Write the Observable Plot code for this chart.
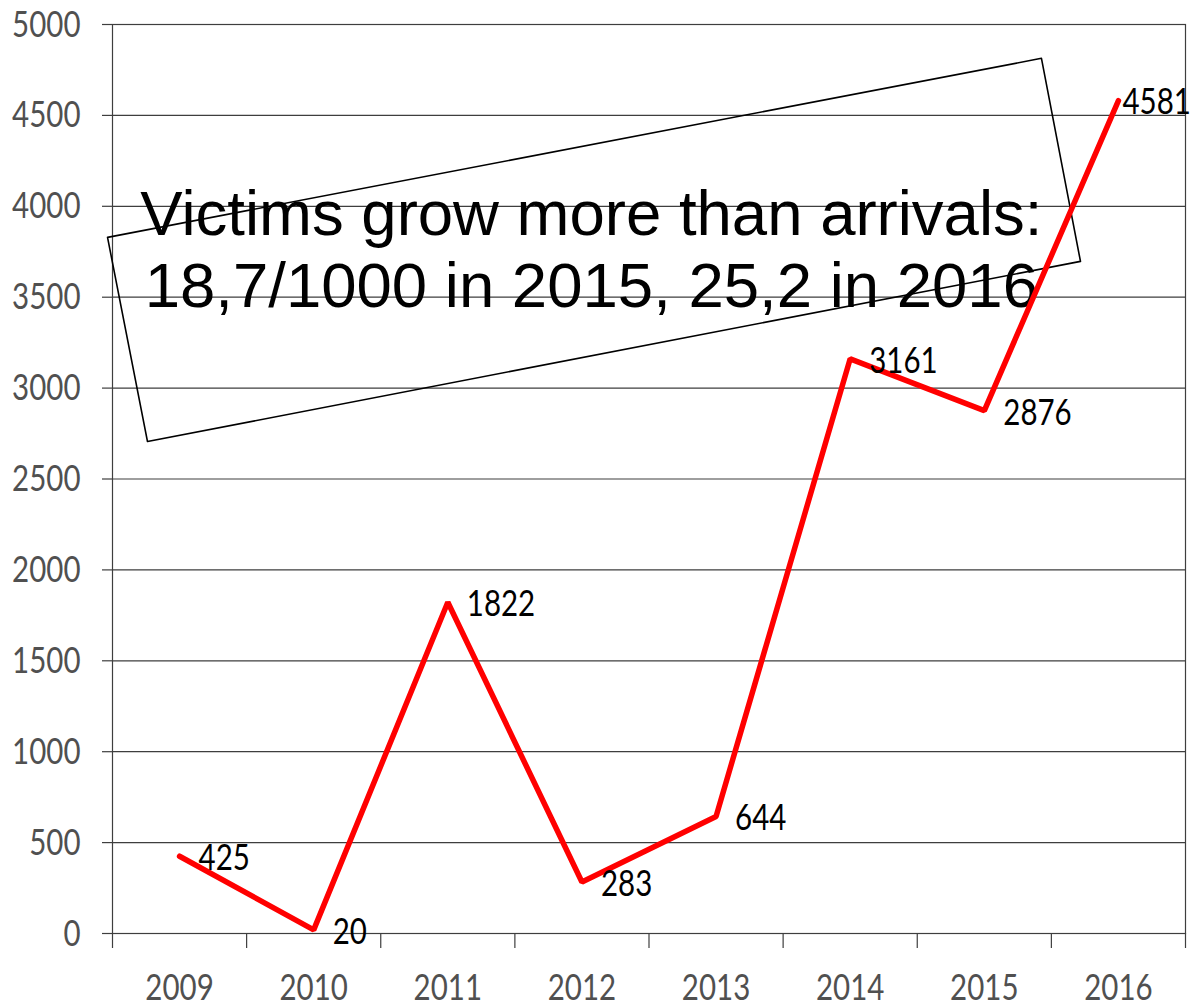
<!DOCTYPE html>
<html>
<head>
<meta charset="utf-8">
<script src="https://cdn.jsdelivr.net/npm/d3@7"></script>
<script src="https://cdn.jsdelivr.net/npm/@observablehq/plot@0.6"></script>
<style>
  html, body { margin: 0; padding: 0; background: #fff; }
  #chart svg { overflow: visible; display: block; }
</style>
</head>
<body>
<div id="chart"></div>
<script>
// ---- data ----
const years = [2009, 2010, 2011, 2012, 2013, 2014, 2015, 2016];
const victims = [425, 20, 1822, 283, 644, 3161, 2876, 4581];
const yTicks = [0, 500, 1000, 1500, 2000, 2500, 3000, 3500, 4000, 4500, 5000];
const bandEdges = [2008.5, 2009.5, 2010.5, 2011.5, 2012.5, 2013.5, 2014.5, 2015.5, 2016.5];
// annotation box corners (year, value)
const boxX = [2008.463, 2015.426, 2015.717, 2008.761, 2008.463];
const boxY = [3829, 4814, 3697, 2706, 3829];
const noteText = ["Victims grow more than arrivals:", "18,7/1000 in 2015, 25,2 in 2016"];
const noteX = [2012.07];
const noteY = [3444];

const series = years.map((y, i) => ({year: y, value: victims[i]}));
const box = boxX.map((x, i) => ({x, y: boxY[i]}));
const note = [{x: noteX[0], y: noteY[0], text: noteText.join("\n")}];

const narrow = "Lato, 'Liberation Sans', sans-serif";
const gridColor = "#3e3e3e";
const digitWidth = 17.1;

const chart = Plot.plot({
  width: 1200,
  height: 1008,
  marginLeft: 112,
  marginRight: 15,
  marginTop: 24,
  marginBottom: 75,
  style: {background: "#fff", overflow: "visible"},
  x: {type: "linear", domain: [2008.5, 2016.5]},
  y: {domain: [0, 5000]},
  marks: [
    Plot.gridY(yTicks, {stroke: gridColor, strokeOpacity: 1, strokeWidth: 1.2}),
    Plot.frame({stroke: gridColor, strokeWidth: 1.2}),
    Plot.axisY({
      ticks: yTicks, tickSize: 10, tickPadding: 22, tickFormat: d => String(d),
      stroke: gridColor, strokeWidth: 1.2, fill: "#505050", fontSize: 37.5, fontFamily: narrow, label: null
    }),
    Plot.axisX({
      ticks: bandEdges, tickSize: 15, tickFormat: () => "", stroke: gridColor, strokeWidth: 1.2, label: null
    }),
    Plot.axisX({
      ticks: years, tickSize: 0, tickPadding: 40, tickFormat: d => String(d),
      fill: "#505050", fontSize: 37.5, fontFamily: narrow, label: null
    }),
    Plot.line(box, {x: "x", y: "y", stroke: "#000", strokeWidth: 1.6}),
    Plot.text(note, {
      x: "x", y: "y", text: "text", lineAnchor: "bottom", lineHeight: 1.14,
      fontSize: 63.5, fontFamily: "'Liberation Sans', Arial, sans-serif", fill: "#000", textAnchor: "middle"
    }),
    Plot.line(series, {
      x: "year", y: "value", stroke: "#ff0000", strokeWidth: 5.5,
      strokeLinejoin: "miter", strokeLinecap: "round"
    }),
    Plot.text(series.slice(0, 7), {
      x: "year", y: "value", text: d => String(d.value), textAnchor: "start",
      dx: 19, dy: 2, fontSize: 37.5, fontFamily: narrow, fill: "#000", className: "datalabel"
    }),
    Plot.text(series.slice(7), {
      x: "year", y: "value", text: d => String(d.value), textAnchor: "start",
      dx: 4, dy: 1, fontSize: 37.5, fontFamily: narrow, fill: "#000", className: "datalabel"
    })
  ]
});

// squeeze the digit labels horizontally to match the condensed look
d3.select(chart)
  .selectAll('g[aria-label="y-axis tick label"] text, g[aria-label="x-axis tick label"] text, .datalabel text')
  .each(function() {
    const s = this.textContent;
    if (!s) return;
    this.setAttribute("textLength", s.length * digitWidth);
    this.setAttribute("lengthAdjust", "spacingAndGlyphs");
  });

document.getElementById("chart").appendChild(chart);
</script>
</body>
</html>
